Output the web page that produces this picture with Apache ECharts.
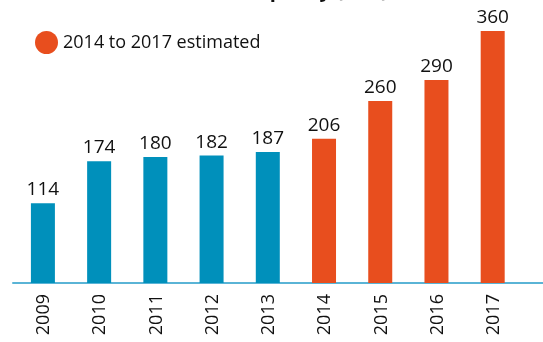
<!DOCTYPE html>
<html><head><meta charset="utf-8">
<script src="https://cdn.jsdelivr.net/npm/echarts@6/dist/echarts.min.js"></script>
<style>html,body{margin:0;padding:0;background:#fff}#c{width:543px;height:342px}</style>
</head><body><div id="c"></div>
<script>
var years = ['2009','2010','2011','2012','2013','2014','2015','2016','2017'];
var values = [114, 174, 180, 182, 187, 206, 260, 290, 360];
var estimated = [false, false, false, false, false, true, true, true, true];
var legendLabel = '2014 to 2017 estimated';
var titleText = 'Installed capacity (MW)';

var BLUE = '#0090bb', ORANGE = '#e84e1e';
var chart = echarts.init(document.getElementById('c'), null, {renderer:'canvas'});
var FONT = '"Open Sans", "Noto Sans", sans-serif';
chart.setOption({
  animation: false,
  title: {text: titleText, left: 'center', top: -24, textStyle: {fontSize: 20, fontWeight: 'bold', color: '#111', fontFamily: FONT}},
  legend: {
    data: [legendLabel], left: 30, top: 26, icon: 'circle', itemWidth: 23, itemHeight: 23, itemGap: 7,
    textStyle: {fontSize: 18, color: '#111', fontFamily: FONT}
  },
  grid: [
    {left: 16, width: 506, top: 3, bottom: 59, containLabel: false},
    {left: 13, right: 0, top: 3, bottom: 59, containLabel: false}
  ],
  xAxis: [
    {type: 'category', data: years, gridIndex: 0,
     axisLine: {show: false}, axisTick: {show: false},
     axisLabel: {rotate: 90, fontSize: 18, color: '#111', fontFamily: FONT, margin: 11}},
    {type: 'value', gridIndex: 1, min: 0, max: 1,
     axisLine: {show: true, lineStyle: {color: '#5ab4d6', width: 2}}, axisTick: {show: false},
     axisLabel: {show: false}, splitLine: {show: false}}
  ],
  yAxis: [
    {type: 'value', gridIndex: 0, min: 0, max: 400, show: false, splitLine: {show: false}},
    {type: 'value', gridIndex: 1, min: 0, max: 400, show: false, splitLine: {show: false}}
  ],
  series: [
    {type: 'bar', name: 'values', xAxisIndex: 0, yAxisIndex: 0, barWidth: 24,
     data: values.map(function(v, i){ return {value: v, itemStyle: {color: estimated[i] ? ORANGE : BLUE}}; }),
     label: {show: true, position: 'top', distance: 4, fontSize: 19, color: '#111', fontFamily: FONT}},
    {type: 'bar', name: legendLabel, xAxisIndex: 0, yAxisIndex: 0, data: [], itemStyle: {color: ORANGE}}
  ]
});
</script></body></html>
